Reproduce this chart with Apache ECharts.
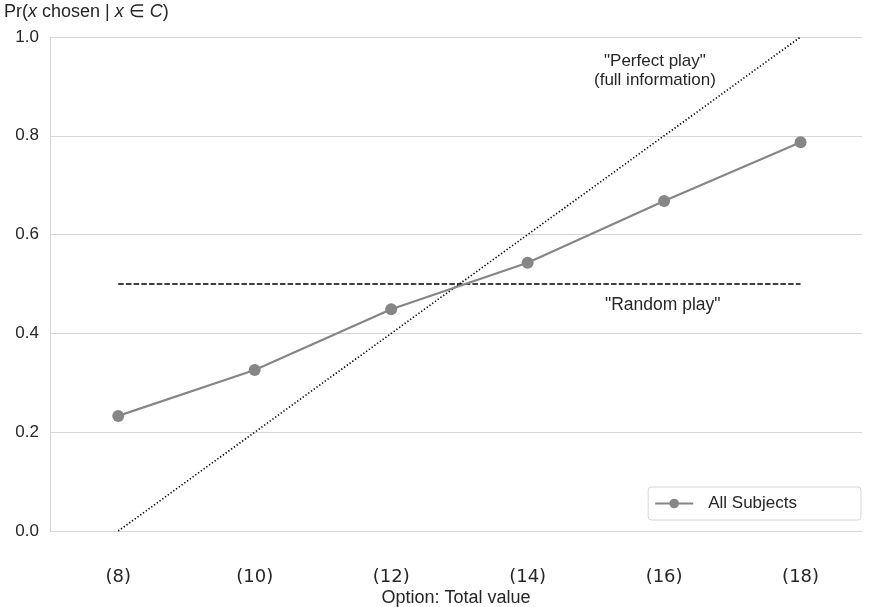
<!DOCTYPE html>
<html>
<head>
<meta charset="utf-8">
<script src="https://cdn.jsdelivr.net/npm/echarts@6/dist/echarts.min.js"></script>
<style>
  html, body { margin: 0; padding: 0; background: #fff; }
  #chart { width: 871px; height: 607px; }
</style>
</head>
<body>
<div id="chart"></div>
<script>
// Option total values and share of times each was chosen
const optionValues = [8, 10, 12, 14, 16, 18];
const chosenShare = [0.233, 0.326, 0.449, 0.543, 0.668, 0.787];
// Reference lines: full-information play and random play
const perfectPlay = [[8, 0], [18, 1]];
const randomPlay = [[8, 0.5], [18, 0.5]];
const yTicks = [0, 0.2, 0.4, 0.6, 0.8, 1.0];

const font = '"Liberation Sans", Arial, sans-serif';
const chart = echarts.init(document.getElementById('chart'));

chart.setOption({
  animation: false,
  backgroundColor: '#fff',
  grid: { left: 50, right: 9, top: 37, bottom: 76, outerBoundsMode: 'none' },
  xAxis: {
    type: 'value',
    min: 7,
    max: 18.9,
    name: 'Option: Total value',
    nameLocation: 'middle',
    nameGap: 58,
    nameMoveOverlap: false,
    nameTextStyle: { fontFamily: font, fontSize: 18, color: '#262626' },
    axisLine: { show: false },
    axisTick: { show: false },
    splitLine: { show: false },
    axisLabel: {
      customValues: optionValues,
      formatter: v => '(' + v + ')',
      margin: 37,
      fontFamily: '"DejaVu Sans", sans-serif',
      fontSize: 18,
      color: '#262626'
    }
  },
  yAxis: {
    type: 'value',
    min: 0,
    max: 1,
    interval: 0.2,
    axisLine: { show: true, lineStyle: { color: '#d6d6d6', width: 1.2 } },
    axisTick: { show: false },
    splitLine: { lineStyle: { color: '#d6d6d6', width: 1.2 } },
    axisLabel: {
      formatter: v => yTicks.includes(+v.toFixed(1)) ? v.toFixed(1) : '',
      margin: 11,
      fontFamily: font,
      fontSize: 17,
      color: '#262626'
    }
  },
  legend: {
    right: 10,
    top: 487,
    padding: [8, 64, 8, 6],
    itemWidth: 38,
    itemHeight: 12,
    itemGap: 10,
    borderColor: '#d6d6d6',
    borderWidth: 1,
    borderRadius: 3,
    textStyle: { fontFamily: font, fontSize: 17, color: '#262626', padding: [0, 0, 0, 10] },
    data: ['All Subjects']
  },
  series: [
    {
      name: 'Perfect play',
      type: 'line',
      data: perfectPlay,
      symbol: 'none',
      silent: true,
      lineStyle: { color: '#000', width: 1.6, type: [1.3, 2.1] },
      z: 1
    },
    {
      name: 'Random play',
      type: 'line',
      data: randomPlay,
      symbol: 'none',
      silent: true,
      lineStyle: { color: '#000', width: 1.6, type: [5.5, 2.2] },
      z: 1
    },
    {
      name: 'All Subjects',
      type: 'line',
      data: optionValues.map((x, i) => [x, chosenShare[i]]),
      symbol: 'circle',
      symbolSize: 12,
      itemStyle: { color: '#868686' },
      lineStyle: { color: '#868686', width: 2.2 },
      z: 3
    }
  ],
  graphic: [
    {
      type: 'text',
      left: 4,
      top: 3,
      style: {
        text: 'Pr({i|x} chosen | {i|x} ∈ {i|C})',
        fontFamily: font,
        fontSize: 18,
        fill: '#262626',
        rich: { i: { fontStyle: 'italic', fontFamily: font, fontSize: 18 } }
      }
    },
    {
      type: 'text',
      left: 594,
      top: 52,
      style: {
        text: '"Perfect play"\n(full information)',
        fontFamily: font,
        fontSize: 17,
        lineHeight: 19,
        fill: '#262626',
        textAlign: 'center'
      }
    },
    {
      type: 'text',
      left: 605,
      top: 296,
      style: {
        text: '"Random play"',
        fontFamily: font,
        fontSize: 17.5,
        fill: '#262626'
      }
    }
  ]
});
</script>
</body>
</html>
